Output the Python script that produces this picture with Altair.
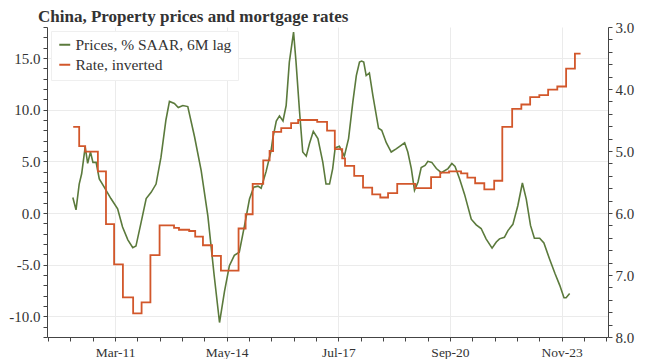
import altair as alt
import pandas as pd

SERIES = ["Prices, % SAAR, 6M lag", "Rate, inverted"]
COLORS = ["#5b7a3c", "#d2572b"]

price_t = [2009.97, 2010.06, 2010.15, 2010.22, 2010.32, 2010.39, 2010.47, 2010.54, 2010.63, 2010.72,
           2010.86, 2011.05, 2011.24, 2011.38, 2011.53, 2011.67, 2011.76, 2011.90, 2012.05, 2012.19,
           2012.33, 2012.47, 2012.61, 2012.71, 2012.85, 2012.96, 2013.09, 2013.23, 2013.42, 2013.61,
           2013.80, 2013.98, 2014.13, 2014.27, 2014.41, 2014.55, 2014.69, 2014.84, 2014.98, 2015.10,
           2015.22, 2015.31, 2015.45, 2015.59, 2015.64, 2015.74, 2015.83, 2015.93, 2016.02, 2016.11,
           2016.23, 2016.30, 2016.40, 2016.49, 2016.59, 2016.68, 2016.79, 2016.92, 2017.06, 2017.15,
           2017.25, 2017.34, 2017.41, 2017.53, 2017.67, 2017.79, 2017.91, 2018.01, 2018.10, 2018.16,
           2018.22, 2018.29, 2018.38, 2018.48, 2018.64, 2018.73, 2018.86, 2019.00, 2019.14, 2019.26,
           2019.38, 2019.47, 2019.57, 2019.66, 2019.76, 2019.85, 2019.96, 2020.04, 2020.15, 2020.28,
           2020.42, 2020.61, 2020.72, 2020.81, 2020.94, 2021.08, 2021.27, 2021.41, 2021.55, 2021.69,
           2021.86, 2021.98, 2022.07, 2022.21, 2022.31, 2022.45, 2022.59, 2022.72, 2022.83, 2022.95,
           2023.06, 2023.21, 2023.33, 2023.49, 2023.65, 2023.78, 2023.90, 2023.96, 2024.06]
price_v = [1.5, 0.3, 2.8, 3.8, 6.4, 4.8, 5.9, 4.9, 4.9, 3.3,
           2.5, 1.4, 0.4, -1.35, -2.6, -3.35, -3.2, -1.0, 1.4, 2.0,
           2.8, 5.4, 9.0, 10.8, 10.6, 10.2, 10.4, 10.3, 7.4, 4.1,
           -0.3, -6.1, -10.6, -7.6, -5.1, -4.1, -3.8, -1.2, 1.35, 2.5,
           2.6, 2.4, 4.0, 6.0, 7.2, 8.9, 9.4, 8.9, 10.4, 14.6,
           17.5, 14.6, 9.8, 5.9, 5.5, 6.7, 7.9, 7.2, 4.9, 2.8,
           2.8, 4.3, 6.3, 6.45, 5.5, 7.2, 10.7, 13.3, 14.6, 14.7,
           14.6, 13.3, 13.55, 11.35, 8.2, 8.0, 6.8, 5.9, 6.2, 6.5,
           6.8, 5.9, 4.3, 2.2, 3.0, 4.4, 4.6, 5.0, 4.9, 4.3,
           3.9, 4.3, 4.8, 4.5, 3.3, 1.8, -0.6, -1.15, -1.5, -2.5,
           -3.4, -2.8, -2.5, -2.35, -1.7, -1.1, 0.7, 2.9, 1.35, -1.2,
           -2.45, -2.45, -2.9, -4.45, -5.9, -7.0, -8.2, -8.2, -7.8]

rate_t = [2009.98, 2010.15, 2010.32, 2010.68, 2010.91, 2011.14, 2011.39, 2011.68, 2011.92, 2012.17,
          2012.43, 2012.84, 2012.98, 2013.27, 2013.44, 2013.66, 2013.92, 2014.17, 2014.67, 2014.87,
          2015.07, 2015.37, 2015.55, 2015.65, 2015.88, 2016.16, 2016.36, 2016.90, 2017.18, 2017.40,
          2017.61, 2017.69, 2017.95, 2018.20, 2018.46, 2018.69, 2018.91, 2019.17, 2019.68, 2020.13,
          2020.39, 2020.64, 2020.98, 2021.16, 2021.38, 2021.64, 2021.92, 2022.15, 2022.43, 2022.69,
          2022.94, 2023.20, 2023.45, 2023.71, 2023.96, 2024.21, 2024.37]
rate_v = [4.61, 4.92, 5.01, 5.33, 6.18, 6.83, 7.36, 7.62, 7.44, 6.68,
          6.20, 6.24, 6.27, 6.29, 6.38, 6.52, 6.69, 6.93, 6.25, 6.02,
          5.53, 5.15, 5.00, 4.69, 4.63, 4.55, 4.50, 4.53, 4.67, 4.97,
          5.12, 5.24, 5.40, 5.59, 5.70, 5.75, 5.68, 5.53, 5.60, 5.42,
          5.35, 5.33, 5.36, 5.43, 5.52, 5.62, 5.48, 4.61, 4.32, 4.25,
          4.13, 4.10, 4.01, 3.96, 3.67, 3.43, 3.43]

x_tick_pos = [2011 + 2 / 12, 2014 + 4 / 12, 2017 + 6 / 12, 2020 + 8 / 12, 2023 + 10 / 12]
x_tick_labels = ["Mar-11", "May-14", "Jul-17", "Sep-20", "Nov-23"]
X_DOMAIN = [2009.237, 2025.148]
LEFT_DOMAIN = [-12, 18]
RIGHT_DOMAIN = [3, 8]

FONT = "Liberation Serif"
TXT = "#333333"
AX = "#444444"
GRID = "#ebebeb"

minor_step = (x_tick_pos[1] - x_tick_pos[0]) / 5
x_values = [round(x_tick_pos[0] + k * minor_step, 4) for k in range(-3, 23)]
major_test = " || ".join(f"abs(datum.value - {p:.4f}) < 0.01" for p in x_tick_pos)
label_expr = "".join(f"abs(datum.value - {p:.4f}) < 0.01 ? '{l}' : " for p, l in zip(x_tick_pos, x_tick_labels)) + "''"

price_df = pd.DataFrame({"t": price_t, "value": price_v, "series": SERIES[0]})
rate_df = pd.DataFrame({"t": rate_t, "value": rate_v, "series": SERIES[1]})

color = alt.Color(
    "series:N",
    scale=alt.Scale(domain=SERIES, range=COLORS),
    legend=alt.Legend(
        title=None, orient="top-left", offset=4, padding=6, fillColor="white",
        strokeColor="#efefef", labelFont=FONT, labelFontSize=15.5, labelColor=TXT,
        symbolType="stroke", symbolStrokeWidth=2, symbolSize=120, labelOffset=3,
        rowPadding=3, labelLimit=400,
    ),
)

x = alt.X(
    "t:Q",
    scale=alt.Scale(domain=X_DOMAIN, nice=False, zero=False),
    axis=alt.Axis(
        title=None, values=x_values, labelExpr=label_expr, grid=True, gridColor=GRID,
        gridOpacity={"condition": {"test": major_test, "value": 1}, "value": 0},
        tickSize=4, tickColor=AX, domainColor=AX, labelFont=FONT, labelFontSize=13.5,
        labelColor=TXT, labelPadding=4, labelOverlap=False, labelFlush=False,
    ),
)

price = alt.Chart(price_df).mark_line(strokeWidth=1.6).encode(
    x=x,
    y=alt.Y(
        "value:Q",
        scale=alt.Scale(domain=LEFT_DOMAIN, nice=False, zero=False),
        axis=alt.Axis(
            title=None, values=list(range(LEFT_DOMAIN[0], LEFT_DOMAIN[1] + 1)),
            labelExpr="datum.value % 5 === 0 ? replace(format(datum.value, '.1f'), '\u2212', '-') : ''",
            grid=True, gridColor=GRID,
            gridOpacity={"condition": {"test": "datum.value % 5 === 0", "value": 1}, "value": 0},
            tickSize=4, tickColor=AX, domainColor=AX, labelFont=FONT, labelFontSize=15,
            labelColor=TXT, labelPadding=3, minExtent=38, maxExtent=38,
        ),
    ),
    color=color,
)

rate = alt.Chart(rate_df).mark_line(strokeWidth=1.8, interpolate="step-after").encode(
    x=x,
    y=alt.Y(
        "value:Q",
        scale=alt.Scale(domain=RIGHT_DOMAIN, reverse=True, nice=False, zero=False),
        axis=alt.Axis(
            title=None, orient="right", values=[round(3 + 0.2 * i, 1) for i in range(26)],
            labelExpr="abs(datum.value - round(datum.value)) < 0.001 ? format(datum.value, '.1f') : ''",
            grid=False, tickSize=4, tickColor=AX, domainColor=AX, labelFont=FONT,
            labelFontSize=15, labelColor=TXT, labelPadding=3,
        ),
    ),
    color=color,
)

chart = (
    alt.layer(price, rate)
    .resolve_scale(y="independent")
    .properties(
        width=561,
        height=310,
        padding={"left": 0, "top": 0, "right": 5, "bottom": 0},
        title=alt.Title(
            "China, Property prices and mortgage rates", font=FONT, fontSize=17,
            fontWeight="bold", color=TXT, anchor="start", frame="group", dx=-9, offset=-6,
        ),
    )
    .configure_view(stroke=None)
)

chart.save("out.html", embed_options={"renderer": "svg", "actions": False})
